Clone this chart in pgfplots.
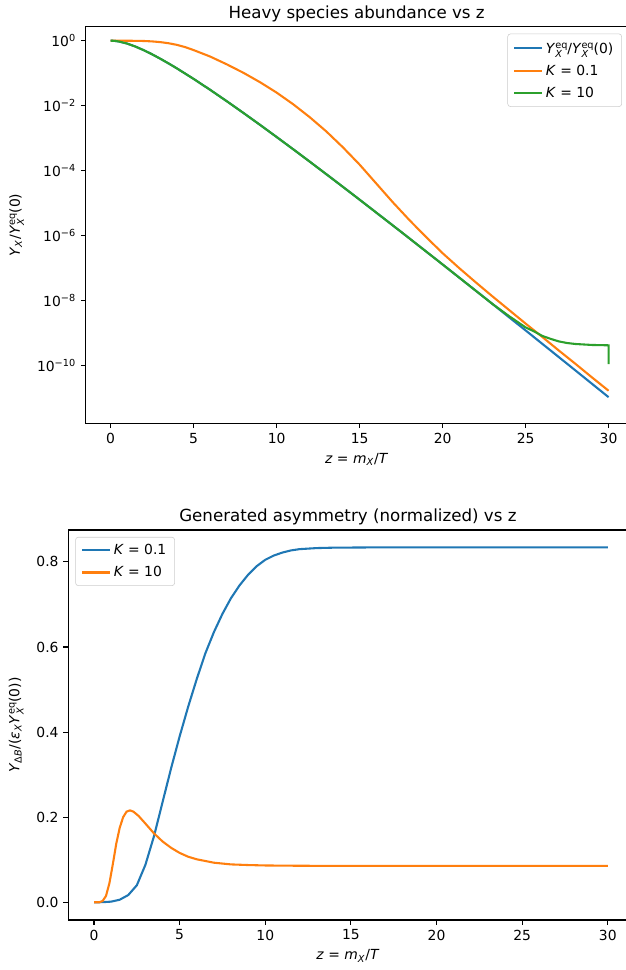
\documentclass[border=0pt,10pt]{standalone}
\usepackage{fontspec}
\setmainfont{DejaVu Sans}
\usepackage{pgfplots}
\pgfplotsset{compat=1.18}
\definecolor{tabblue}{HTML}{1F77B4}
\definecolor{taborange}{HTML}{FF7F0E}
\definecolor{tabgreen}{HTML}{2CA02C}
% stacked sub- and superscript, as in Y_X^eq
\newcommand{\subsup}[2]{{\scriptsize\begin{tabular}{@{}l@{}}#2\\[-0.4ex]#1\end{tabular}}}

\pgfplotsset{
  mplstyle/.style={
    scale only axis,
    axis line style={line width=0.8pt},
    tick align=outside, tick pos=left,
    major tick length=3.5pt,
    every tick/.style={black, line width=0.8pt},
    xmin=-1.5, xmax=31.14,
    xtick={0,5,10,15,20,25,30},
    xticklabels={0,5,10,15,20,25,30},
    title style={font=\fontsize{12}{14.4}\selectfont, yshift=-6pt},
    every axis plot/.append style={line width=1.5pt, no markers},
    legend cell align=left,
    legend image code/.code={\draw[#1] (0pt,0pt) -- (20pt,0pt);},
    legend style={draw=black!20, rounded corners=2pt, fill=white,
      fill opacity=0.8, text opacity=1, inner xsep=4pt, inner ysep=3pt,
      row sep=3pt},
  }
}

\begin{document}
\begin{tikzpicture}
\path[use as bounding box] (0pt,0pt) rectangle (450.7pt,-698.4pt);

% top panel
\begin{axis}[mplstyle,
  at={(61.7pt,-304.8pt)}, anchor=south west,
  width=390.1pt, height=285.6pt,
  ymode=log, ymin=1.6e-12, ymax=2.7,
  ytick={1,1e-2,1e-4,1e-6,1e-8,1e-10},
  yticklabels={10\textsuperscript{0},10\textsuperscript{−2},10\textsuperscript{−4},10\textsuperscript{−6},10\textsuperscript{−8},10\textsuperscript{−10}},
  yminorticks=false,
  title={Heavy species abundance vs z},
  xlabel={\textit{z} = \textit{m}\textsubscript{\textit{X}}/\textit{T}},
  ylabel={\textit{Y}\textsubscript{\textit{X}}/\textit{Y}\subsup{\textit{X}}{eq}(0)},
  legend style={at={(1,1)}, anchor=north east, xshift=-4pt, yshift=-5pt},
]
\addplot[tabblue] coordinates {
(0,1) (0.25,0.985) (0.5,0.9438) (1,0.8124) (1.5,0.6566) (2,0.5075) (2.5,0.3796)
(3,0.2768) (3.5,0.1979) (4,0.1392) (5,0.06636) (6,0.03047) (7,0.01359) (8,5.93e-3)
(9,2.544e-3) (10,1.0755e-3) (11,4.494e-4) (12,1.8595e-4) (13,7.628e-5)
(14,3.1063e-5) (15,1.2568e-5) (17.5,1.2784e-6) (20,1.2659e-7) (22.5,1.2277e-8)
(25,1.1708e-9) (27.5,1.1016e-10) (30,1.0247e-11)};
\addlegendentry{\textit{Y}\subsup{\textit{X}}{eq}/\textit{Y}\subsup{\textit{X}}{eq}(0)}
\addplot[taborange] coordinates {
(0,1) (0.5,0.9995) (1,0.9954) (1.5,0.9886) (2,0.9772) (2.5,0.9484) (3,0.9016)
(3.5,0.8318) (4,0.7413) (4.5,0.631) (5,0.5129) (6,0.3236) (7,0.1862) (8,0.1023)
(9,0.05248) (10,0.02512) (11,0.01096) (12,4.365e-3) (13,1.585e-3) (14,5.129e-4)
(15,1.514e-4) (16,3.981e-5) (17,1.047e-5) (18,2.951e-6) (19,8.913e-7)
(20,2.818e-7) (21,9.772e-8) (22,3.548e-8) (23,1.318e-8) (24,5.012e-9)
(25,1.905e-9) (26,7.413e-10) (27,2.818e-10) (28,1.096e-10) (29,4.169e-11)
(30,1.622e-11)};
\addlegendentry{\textit{K} = 0.1}
\addplot[tabgreen] coordinates {
(0,1) (0.25,0.985) (0.5,0.9438) (1,0.8124) (1.5,0.6566) (2,0.5075) (2.5,0.3796)
(3,0.2768) (3.5,0.1979) (4,0.1392) (5,0.06636) (6,0.03047) (7,0.01359) (8,5.93e-3)
(9,2.544e-3) (10,1.0755e-3) (11,4.494e-4) (12,1.8595e-4) (13,7.628e-5)
(14,3.1063e-5) (15,1.2568e-5) (17.5,1.2784e-6) (20,1.2659e-7) (22.5,1.2277e-8)
(23,7.7e-9) (24,3.24e-9) (25,1.45e-9) (25.5,1.10e-9) (26,7.94e-10)
(26.5,6.46e-10) (27,5.37e-10) (27.5,4.79e-10) (28,4.47e-10) (29,4.17e-10)
(30,4.07e-10) (30,1.07e-10)};
\addlegendentry{\textit{K} = 10}
\end{axis}

% bottom panel
\begin{axis}[mplstyle,
  at={(49.2pt,-662.4pt)}, anchor=south west,
  width=402.6pt, height=280.8pt,
  xmax=31.15,
  ymin=-0.0417, ymax=0.875,
  ytick={0,0.2,0.4,0.6,0.8},
  yticklabels={0.0,0.2,0.4,0.6,0.8},
  title={Generated asymmetry (normalized) vs z},
  xlabel={\textit{z} = \textit{m}\textsubscript{\textit{X}}/\textit{T}},
  ylabel={\textit{Y}\textsubscript{Δ\textit{B}}/(\textit{ε}\textsubscript{\textit{X}}\textit{Y}\subsup{\textit{X}}{eq}(0))},
  legend style={at={(0,1)}, anchor=north west, xshift=5pt, yshift=-5pt},
]
\addplot[tabblue] coordinates {
(0,0) (0.5,0.0002) (1,0.0015) (1.5,0.006) (2,0.017) (2.5,0.04) (3,0.088)
(3.5,0.155) (4,0.235) (4.5,0.315) (5,0.39) (5.5,0.46) (6,0.525) (6.5,0.585)
(7,0.635) (7.5,0.678) (8,0.715) (8.5,0.745) (9,0.77) (9.5,0.79) (10,0.805)
(10.5,0.815) (11,0.822) (11.5,0.827) (12,0.830) (13,0.8325) (14,0.8335)
(16,0.834) (30,0.834)};
\addlegendentry{\textit{K} = 0.1}
\addplot[taborange] coordinates {
(0,0) (0.3,0) (0.5,0.003) (0.7,0.015) (0.9,0.045) (1.1,0.09) (1.3,0.138)
(1.5,0.175) (1.7,0.2) (1.9,0.213) (2.1,0.216) (2.3,0.213) (2.6,0.203)
(3,0.185) (3.5,0.162) (4,0.143) (4.5,0.128) (5,0.116) (5.5,0.107) (6,0.101)
(7,0.093) (8,0.089) (9,0.0875) (10,0.0865) (12,0.0858) (15,0.0855) (30,0.0855)};
\addlegendentry{\textit{K} = 10}
\end{axis}
\end{tikzpicture}
\end{document}
